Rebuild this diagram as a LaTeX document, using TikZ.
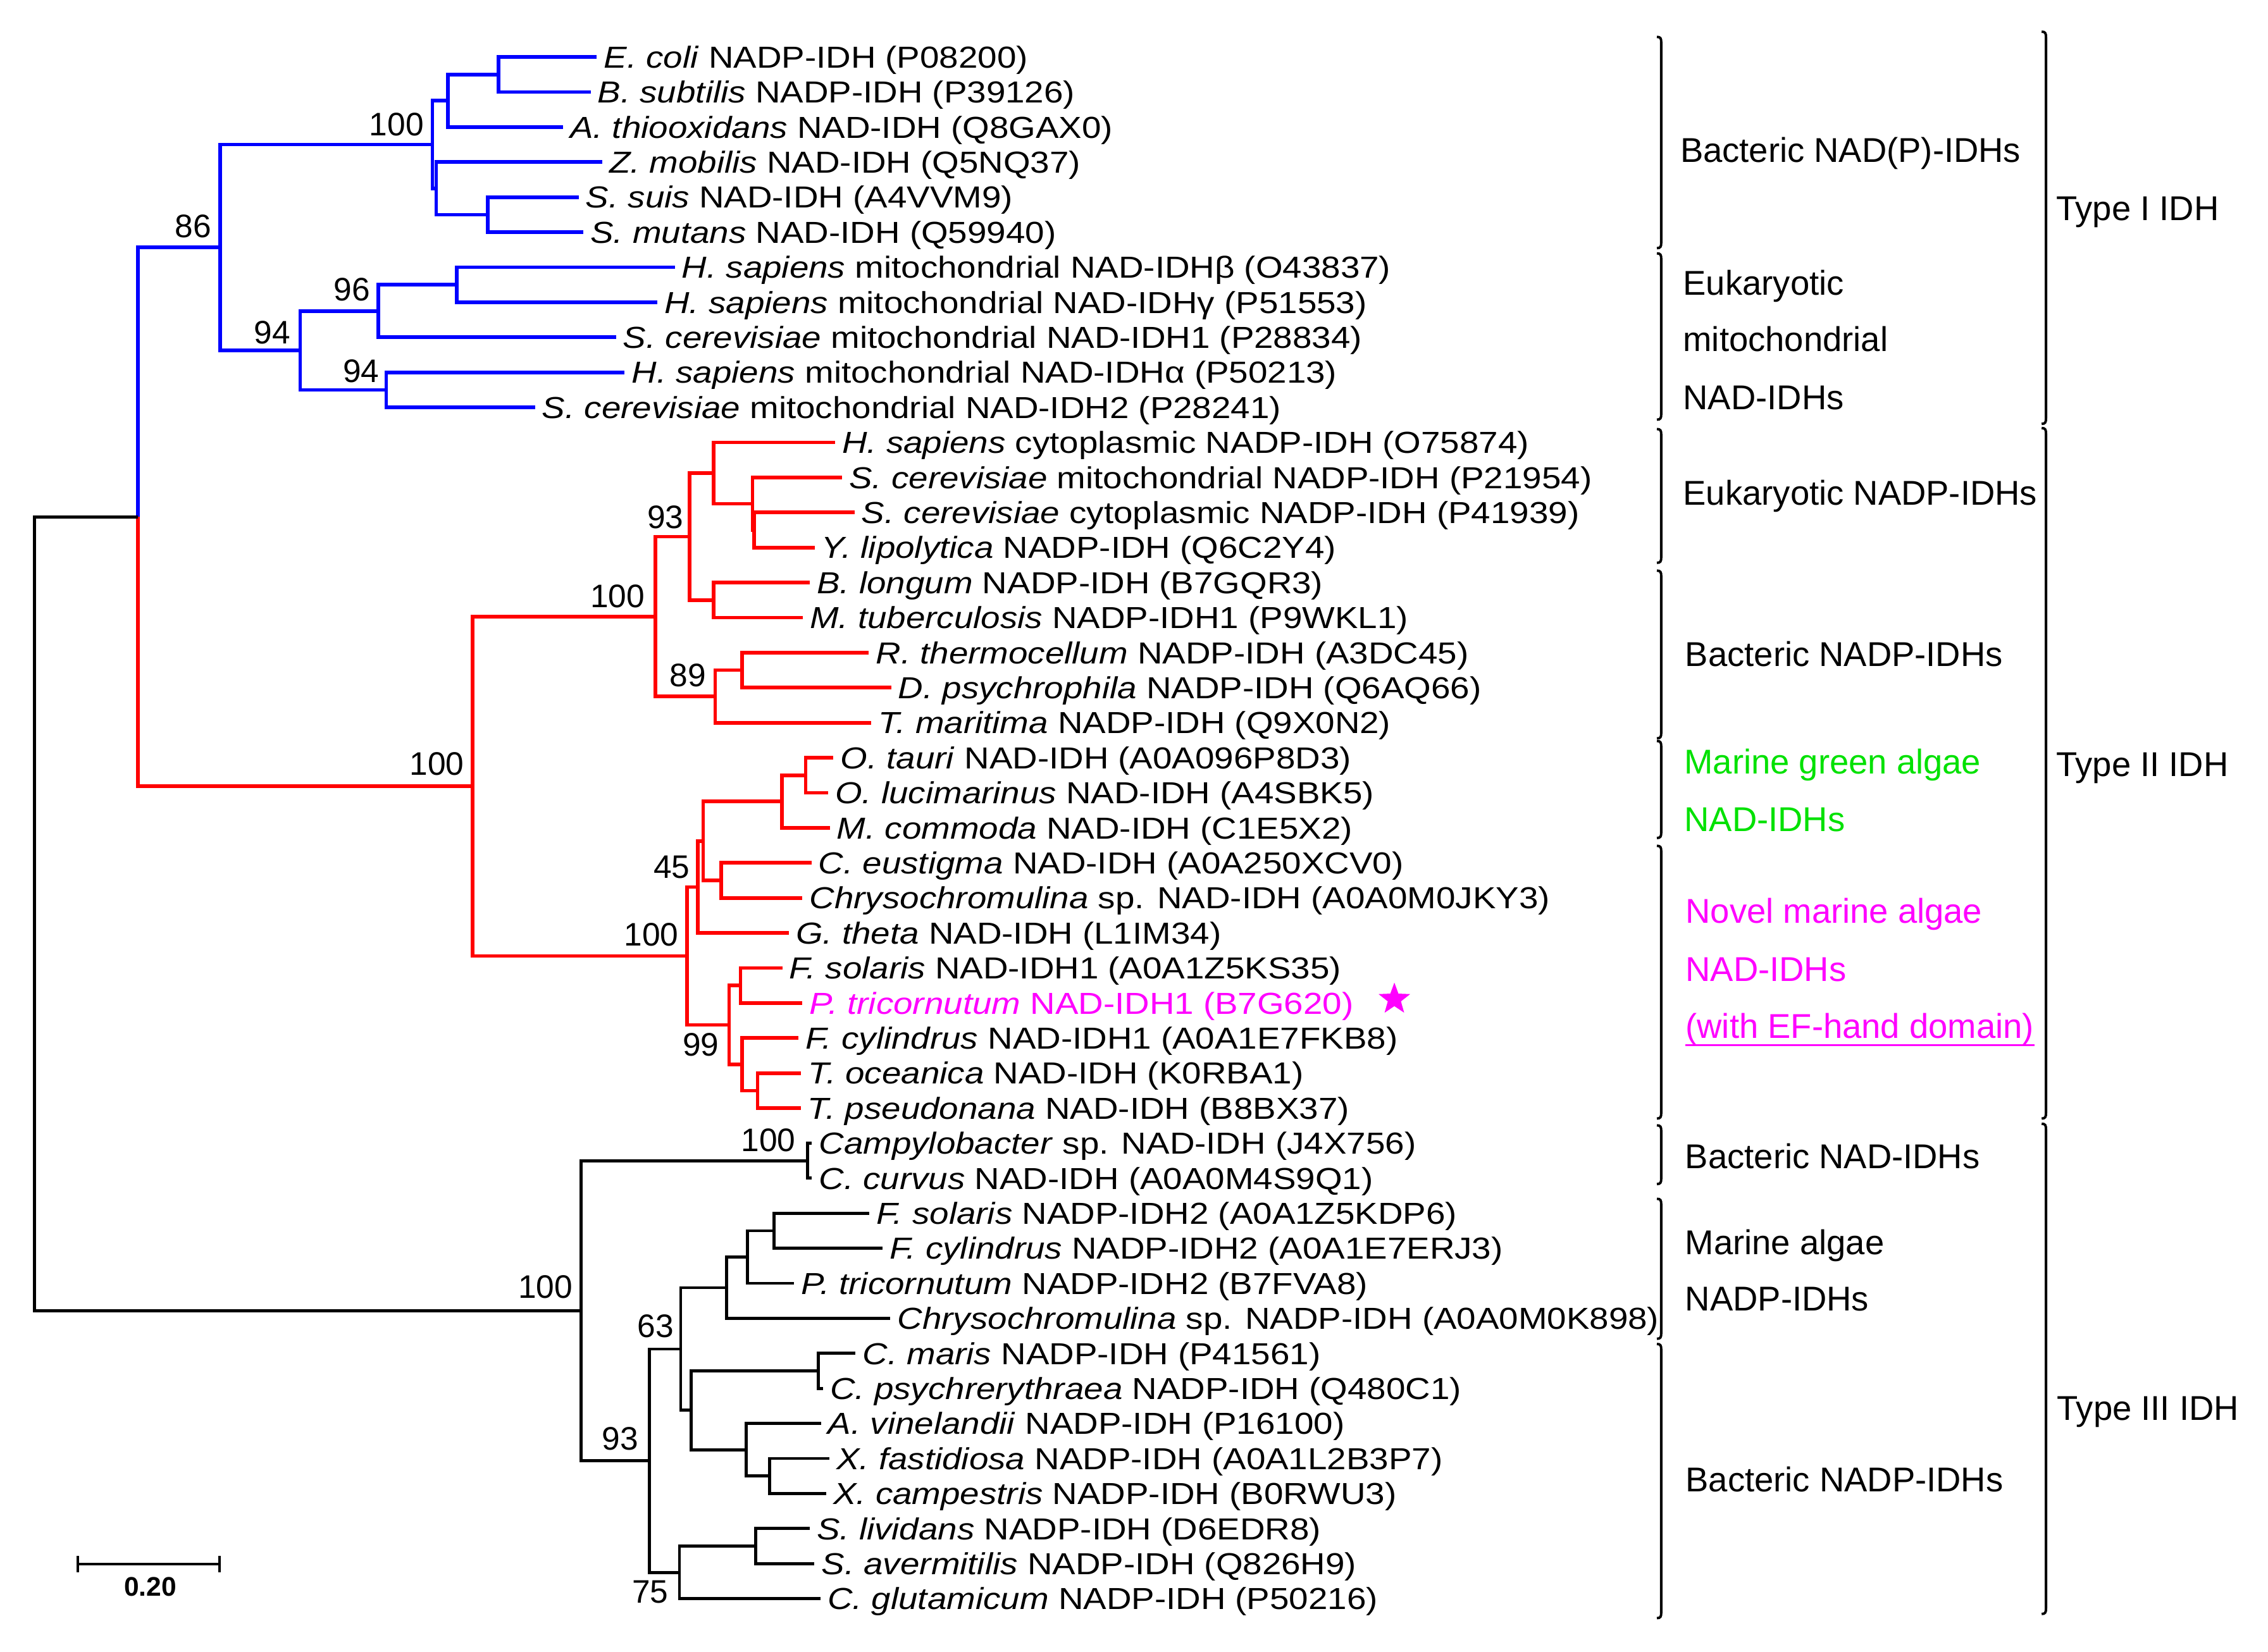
\documentclass[tikz,border=0pt]{standalone}
\usepackage{fontspec}
\setmainfont{Liberation Sans}
\newfontfamily\leaffont{Liberation Sans}[FakeStretch=1.14]
\usetikzlibrary{shapes.geometric}
\definecolor{treeblue}{RGB}{0,0,255}
\definecolor{treered}{RGB}{255,0,0}
\definecolor{algagreen}{RGB}{0,225,0}
\definecolor{novelmag}{RGB}{255,0,255}
\newcommand{\grpbrace}[3]{\draw[brace line] (#1-3,#2) .. controls (#1-0.5,#2) and (#1,#2+1) .. (#1,#2+4) -- (#1,#3-4) .. controls (#1,#3-1) and (#1-0.5,#3) .. (#1-3,#3);}
\begin{document}
\begin{tikzpicture}[x=0.5pt,y=-0.5pt,
  blueline/.style={draw=treeblue, line width=1.25pt},
  redline/.style={draw=treered, line width=1.25pt},
  blackline/.style={draw=black, line width=1.05pt},
  brace line/.style={draw=black, line width=0.85pt},
  leaf/.style={anchor=base west, inner sep=0pt, font=\leaffont\fontsize{10.5}{12}\selectfont},
  bs/.style={anchor=base east, inner sep=0pt, font=\fontsize{11.25}{13}\selectfont},
  grp/.style={anchor=base west, inner sep=0pt, font=\fontsize{11.9}{14}\selectfont}]
\useasboundingbox (0,0) rectangle (1568,1142);
\fill[white] (0,0) rectangle (1568,1142);

% ---------- leaf tips ----------
\coordinate (l1) at (412.6,39.40);
\coordinate (l2) at (408.3,63.63);
\coordinate (l3) at (389.2,87.86);
\coordinate (l4) at (416.3,112.09);
\coordinate (l5) at (400.0,136.32);
\coordinate (l6) at (403.3,160.55);
\coordinate (l7) at (466.5,184.78);
\coordinate (l8) at (454.5,209.01);
\coordinate (l9) at (425.9,233.24);
\coordinate (l10) at (431.9,257.47);
\coordinate (l11) at (369.9,281.70);
\coordinate (l12) at (577.3,305.93);
\coordinate (l13) at (582.2,330.16);
\coordinate (l14) at (590.7,354.39);
\coordinate (l15) at (563.2,378.62);
\coordinate (l16) at (559.9,402.85);
\coordinate (l17) at (555.0,427.08);
\coordinate (l18) at (600.7,451.31);
\coordinate (l19) at (616.1,475.54);
\coordinate (l20) at (602.3,499.77);
\coordinate (l21) at (576.2,524.00);
\coordinate (l22) at (572.6,548.23);
\coordinate (l23) at (573.7,572.46);
\coordinate (l24) at (561.0,596.69);
\coordinate (l25) at (554.8,620.92);
\coordinate (l26) at (545.4,645.15);
\coordinate (l27) at (540.9,669.38);
\coordinate (l28) at (554.8,693.61);
\coordinate (l29) at (552.1,717.84);
\coordinate (l30) at (553.9,742.07);
\coordinate (l31) at (553.6,766.30);
\coordinate (l32) at (561.3,790.53);
\coordinate (l33) at (561.3,814.76);
\coordinate (l34) at (601.1,838.99);
\coordinate (l35) at (610.2,863.22);
\coordinate (l36) at (549.1,887.45);
\coordinate (l37) at (615.6,911.68);
\coordinate (l38) at (591.5,935.91);
\coordinate (l39) at (569.0,960.14);
\coordinate (l40) at (567.6,984.37);
\coordinate (l41) at (573.4,1008.60);
\coordinate (l42) at (571.2,1032.83);
\coordinate (l43) at (559.8,1057.06);
\coordinate (l44) at (563.1,1081.29);
\coordinate (l45) at (567.2,1105.52);

% ---------- internal nodes ----------
\coordinate (a1) at (344.8,51.515);
\coordinate (a2) at (309.6,69.69);
\coordinate (a3) at (337.3,148.435);
\coordinate (a4) at (301.6,130.26);
\coordinate (a5) at (298.9,99.975);
\coordinate (b1) at (315.9,196.895);
\coordinate (b2) at (261.5,215.07);
\coordinate (b3) at (267.0,269.585);
\coordinate (b4) at (207.5,242.33);
\coordinate (n86) at (152.3,171.15);
\coordinate (c1) at (521.3,366.505);
\coordinate (c2) at (520.2,348.33);
\coordinate (c3) at (493.4,327.13);
\coordinate (c4) at (493.4,414.965);
\coordinate (n93) at (476.7,371.05);
\coordinate (d1) at (513.0,463.425);
\coordinate (n89) at (494.5,481.60);
\coordinate (n100b) at (453.2,426.32);
\coordinate (e1) at (557.0,536.115);
\coordinate (e2) at (540.5,554.29);
\coordinate (e3) at (498.5,608.805);
\coordinate (e4) at (486.2,581.55);
\coordinate (n45) at (482.5,613.35);
\coordinate (f1) at (511.9,681.495);
\coordinate (f2) at (523.7,754.185);
\coordinate (f3) at (513.0,736.01);
\coordinate (n99) at (504.1,708.75);
\coordinate (n100c) at (475.1,661.05);
\coordinate (n100a) at (326.7,543.69);
\coordinate (br) at (95.5,357.42);
\coordinate (g1) at (558.2,802.645);
\coordinate (h1) at (535.0,851.105);
\coordinate (h2) at (516.8,869.28);
\coordinate (h3) at (502.3,890.48);
\coordinate (i1) at (565.8,948.025);
\coordinate (i2) at (532.2,1020.715);
\coordinate (i3) at (515.9,1002.54);
\coordinate (i4) at (477.9,975.28);
\coordinate (n63) at (470.6,932.88);
\coordinate (j1) at (522.3,1069.175);
\coordinate (n75) at (469.7,1087.35);
\coordinate (n93b) at (448.9,1010.115);
\coordinate (n100d) at (401.7,906.38);
\coordinate (root) at (23.7,631.9);

% ---------- branches ----------
\foreach \p/\c in {a1/l1,a1/l2,a2/a1,a2/l3,a3/l5,a3/l6,a4/l4,a4/a3,a5/a2,a5/a4,
  b1/l7,b1/l8,b2/b1,b2/l9,b3/l10,b3/l11,b4/b2,b4/b3,n86/a5,n86/b4,br/n86}
  \draw[blueline] (\p) |- (\c);
\foreach \p/\c in {c1/l14,c1/l15,c2/l13,c2/c1,c3/l12,c3/c2,c4/l16,c4/l17,n93/c3,n93/c4,
  d1/l18,d1/l19,n89/d1,n89/l20,n100b/n93,n100b/n89,
  e1/l21,e1/l22,e2/e1,e2/l23,e3/l24,e3/l25,e4/e2,e4/e3,n45/e4,n45/l26,
  f1/l27,f1/l28,f2/l30,f2/l31,f3/l29,f3/f2,n99/f1,n99/f3,
  n100c/n45,n100c/n99,n100a/n100b,n100a/n100c,br/n100a}
  \draw[redline] (\p) |- (\c);
\foreach \p/\c in {g1/l32,g1/l33,h1/l34,h1/l35,h2/h1,h2/l36,h3/h2,h3/l37,
  i1/l38,i1/l39,i2/l41,i2/l42,i3/l40,i3/i2,i4/i1,i4/i3,n63/h3,n63/i4,
  j1/l43,j1/l44,n75/j1,n75/l45,n93b/n63,n93b/n75,n100d/g1,n100d/n93b,
  root/br,root/n100d}
  \draw[blackline] (\p) |- (\c);

% ---------- leaf labels ----------
\node[leaf] (t1) at ([shift={(4.5,7.5)}]l1) {\textit{E. coli} NADP-IDH (P08200)};
\node[leaf] (t2) at ([shift={(4.5,7.5)}]l2) {\textit{B. subtilis} NADP-IDH (P39126)};
\node[leaf] (t3) at ([shift={(4.5,7.5)}]l3) {\textit{A. thiooxidans} NAD-IDH (Q8GAX0)};
\node[leaf] (t4) at ([shift={(4.5,7.5)}]l4) {\textit{Z. mobilis} NAD-IDH (Q5NQ37)};
\node[leaf] (t5) at ([shift={(4.5,7.5)}]l5) {\textit{S. suis} NAD-IDH (A4VVM9)};
\node[leaf] (t6) at ([shift={(4.5,7.5)}]l6) {\textit{S. mutans} NAD-IDH (Q59940)};
\node[leaf] (t7) at ([shift={(4.5,7.5)}]l7) {\textit{H. sapiens} mitochondrial NAD-IDHβ (O43837)};
\node[leaf] (t8) at ([shift={(4.5,7.5)}]l8) {\textit{H. sapiens} mitochondrial NAD-IDHγ (P51553)};
\node[leaf] (t9) at ([shift={(4.5,7.5)}]l9) {\textit{S. cerevisiae} mitochondrial NAD-IDH1 (P28834)};
\node[leaf] (t10) at ([shift={(4.5,7.5)}]l10) {\textit{H. sapiens} mitochondrial NAD-IDHα (P50213)};
\node[leaf] (t11) at ([shift={(4.5,7.5)}]l11) {\textit{S. cerevisiae} mitochondrial NAD-IDH2 (P28241)};
\node[leaf] (t12) at ([shift={(4.5,7.5)}]l12) {\textit{H. sapiens} cytoplasmic NADP-IDH (O75874)};
\node[leaf] (t13) at ([shift={(4.5,7.5)}]l13) {\textit{S. cerevisiae} mitochondrial NADP-IDH (P21954)};
\node[leaf] (t14) at ([shift={(4.5,7.5)}]l14) {\textit{S. cerevisiae} cytoplasmic NADP-IDH (P41939)};
\node[leaf] (t15) at ([shift={(4.5,7.5)}]l15) {\textit{Y. lipolytica} NADP-IDH (Q6C2Y4)};
\node[leaf] (t16) at ([shift={(4.5,7.5)}]l16) {\textit{B. longum} NADP-IDH (B7GQR3)};
\node[leaf] (t17) at ([shift={(4.5,7.5)}]l17) {\textit{M. tuberculosis} NADP-IDH1 (P9WKL1)};
\node[leaf] (t18) at ([shift={(4.5,7.5)}]l18) {\textit{R. thermocellum} NADP-IDH (A3DC45)};
\node[leaf] (t19) at ([shift={(4.5,7.5)}]l19) {\textit{D. psychrophila} NADP-IDH (Q6AQ66)};
\node[leaf] (t20) at ([shift={(4.5,7.5)}]l20) {\textit{T. maritima} NADP-IDH (Q9X0N2)};
\node[leaf] (t21) at ([shift={(4.5,7.5)}]l21) {\textit{O. tauri} NAD-IDH (A0A096P8D3)};
\node[leaf] (t22) at ([shift={(4.5,7.5)}]l22) {\textit{O. lucimarinus} NAD-IDH (A4SBK5)};
\node[leaf] (t23) at ([shift={(4.5,7.5)}]l23) {\textit{M. commoda} NAD-IDH (C1E5X2)};
\node[leaf] (t24) at ([shift={(4.5,7.5)}]l24) {\textit{C. eustigma} NAD-IDH (A0A250XCV0)};
\node[leaf] (t25) at ([shift={(4.5,7.5)}]l25) {\textit{Chrysochromulina} sp. NAD-IDH (A0A0M0JKY3)};
\node[leaf] (t26) at ([shift={(4.5,7.5)}]l26) {\textit{G. theta} NAD-IDH (L1IM34)};
\node[leaf] (t27) at ([shift={(4.5,7.5)}]l27) {\textit{F. solaris} NAD-IDH1 (A0A1Z5KS35)};
\node[leaf, text=novelmag] (t28) at ([shift={(4.5,7.5)}]l28) {\textit{P. tricornutum} NAD-IDH1 (B7G620)};
\node[leaf] (t29) at ([shift={(4.5,7.5)}]l29) {\textit{F. cylindrus} NAD-IDH1 (A0A1E7FKB8)};
\node[leaf] (t30) at ([shift={(4.5,7.5)}]l30) {\textit{T. oceanica} NAD-IDH (K0RBA1)};
\node[leaf] (t31) at ([shift={(4.5,7.5)}]l31) {\textit{T. pseudonana} NAD-IDH (B8BX37)};
\node[leaf] (t32) at ([shift={(4.5,7.5)}]l32) {\textit{Campylobacter} sp. NAD-IDH (J4X756)};
\node[leaf] (t33) at ([shift={(4.5,7.5)}]l33) {\textit{C. curvus} NAD-IDH (A0A0M4S9Q1)};
\node[leaf] (t34) at ([shift={(4.5,7.5)}]l34) {\textit{F. solaris} NADP-IDH2 (A0A1Z5KDP6)};
\node[leaf] (t35) at ([shift={(4.5,7.5)}]l35) {\textit{F. cylindrus} NADP-IDH2 (A0A1E7ERJ3)};
\node[leaf] (t36) at ([shift={(4.5,7.5)}]l36) {\textit{P. tricornutum} NADP-IDH2 (B7FVA8)};
\node[leaf] (t37) at ([shift={(4.5,7.5)}]l37) {\textit{Chrysochromulina} sp. NADP-IDH (A0A0M0K898)};
\node[leaf] (t38) at ([shift={(4.5,7.5)}]l38) {\textit{C. maris} NADP-IDH (P41561)};
\node[leaf] (t39) at ([shift={(4.5,7.5)}]l39) {\textit{C. psychrerythraea} NADP-IDH (Q480C1)};
\node[leaf] (t40) at ([shift={(4.5,7.5)}]l40) {\textit{A. vinelandii} NADP-IDH (P16100)};
\node[leaf] (t41) at ([shift={(4.5,7.5)}]l41) {\textit{X. fastidiosa} NADP-IDH (A0A1L2B3P7)};
\node[leaf] (t42) at ([shift={(4.5,7.5)}]l42) {\textit{X. campestris} NADP-IDH (B0RWU3)};
\node[leaf] (t43) at ([shift={(4.5,7.5)}]l43) {\textit{S. lividans} NADP-IDH (D6EDR8)};
\node[leaf] (t44) at ([shift={(4.5,7.5)}]l44) {\textit{S. avermitilis} NADP-IDH (Q826H9)};
\node[leaf] (t45) at ([shift={(4.5,7.5)}]l45) {\textit{C. glutamicum} NADP-IDH (P50216)};

% star
\node[star, star points=5, star point ratio=2.4, fill=novelmag, draw=none, inner sep=0pt, minimum size=11.5pt] (novelstar) at (964.0,691.0) {};

% ---------- bootstrap values ----------
\node[bs] (bs1) at (293.3,94.0) {100};
\node[bs] (bs2) at (146.5,164.2) {86};
\node[bs] (bs3) at (256.2,208.1) {96};
\node[bs] (bs4) at (201.0,237.6) {94};
\node[bs] (bs5) at (262.5,264.3) {94};
\node[bs] (bs6) at (472.9,365.2) {93};
\node[bs] (bs7) at (446.1,419.9) {100};
\node[bs] (bs8) at (488.5,474.6) {89};
\node[bs] (bs9) at (321.1,536.2) {100};
\node[bs] (bs10) at (477.3,607.3) {45};
\node[bs] (bs11) at (469.5,654.2) {100};
\node[bs] (bs12) at (497.4,730.3) {99};
\node[bs] (bs13) at (550.4,796.3) {100};
\node[bs] (bs14) at (396.3,897.9) {100};
\node[bs] (bs15) at (466.1,924.6) {63};
\node[bs] (bs16) at (441.6,1002.7) {93};
\node[bs] (bs17) at (462.4,1108.7) {75};

% ---------- group braces ----------
\grpbrace{1148.5}{25.5}{171.6}
\grpbrace{1148.5}{175.2}{290.2}
\grpbrace{1148.5}{296.7}{389.2}
\grpbrace{1148.5}{394.6}{510.6}
\grpbrace{1148.5}{512.4}{579.5}
\grpbrace{1148.5}{584.9}{773.5}
\grpbrace{1148.5}{778.2}{818.8}
\grpbrace{1148.5}{829.0}{925.8}
\grpbrace{1148.5}{929.4}{1119.0}
\grpbrace{1414.5}{21.9}{293.1}
\grpbrace{1414.5}{296.0}{773.5}
\grpbrace{1414.5}{777.1}{1116.1}

% ---------- group labels ----------
\node[grp] (g-bnadp) at (1161.3,112.3) {Bacteric NAD(P)-IDHs};
\node[grp] (g-em1) at (1163.3,204.2) {Eukaryotic};
\node[grp] (g-em2) at (1163.3,243.0) {mitochondrial};
\node[grp] (g-em3) at (1163.3,283.3) {NAD-IDHs};
\node[grp] (g-enadp) at (1163.3,349.3) {Eukaryotic NADP-IDHs};
\node[grp] (g-bnadp2) at (1164.7,460.6) {Bacteric NADP-IDHs};
\node[grp, text=algagreen] (g-mg1) at (1164.1,535.3) {Marine green algae};
\node[grp, text=algagreen] (g-mg2) at (1164.1,574.8) {NAD-IDHs};
\node[grp, text=novelmag] (g-nv1) at (1165.0,638.2) {Novel marine algae};
\node[grp, text=novelmag] (g-nv2) at (1165.0,678.5) {NAD-IDHs};
\node[grp, text=novelmag] (g-nv3) at (1165.0,718.0) {(with EF-hand domain)};
\draw[novelmag, line width=0.75pt] (g-nv3.south west |- 0,722.7) -- (g-nv3.south east |- 0,722.7);
\node[grp] (g-bnad) at (1164.7,807.9) {Bacteric NAD-IDHs};
\node[grp] (g-ma1) at (1164.7,867.7) {Marine algae};
\node[grp] (g-ma2) at (1164.7,906.5) {NADP-IDHs};
\node[grp] (g-bnadp3) at (1165.0,1031.5) {Bacteric NADP-IDHs};
\node[grp] (type1) at (1421.2,152.4) {Type I IDH};
\node[grp] (type2) at (1421.2,536.7) {Type II IDH};
\node[grp] (type3) at (1421.8,982.0) {Type III IDH};

% ---------- scale bar ----------
\coordinate (sbL) at (53.7,1081.7);
\coordinate (sbR) at (151.6,1081.7);
\draw[line width=0.9pt] (sbL) -- (sbR);
\draw[line width=0.9pt] ([yshift=2.9pt]sbL) -- ([yshift=-2.9pt]sbL);
\draw[line width=0.9pt] ([yshift=2.9pt]sbR) -- ([yshift=-2.9pt]sbR);
\node[inner sep=0pt, font=\bfseries\fontsize{9.3}{11}\selectfont] (sblabel) at (103.9,1097.1) {0.20};
\end{tikzpicture}
\end{document}
